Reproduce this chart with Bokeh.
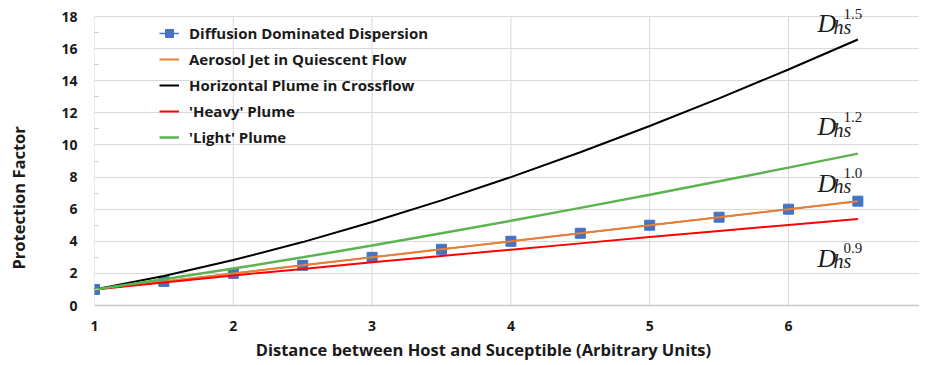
from bokeh.plotting import figure
from bokeh.models import Legend, LegendItem, Label, FixedTicker, Range1d
from bokeh.embed import file_html
from bokeh.resources import INLINE

# ---- data ----
x_vals = [1.0, 1.5, 2.0, 2.5, 3.0, 3.5, 4.0, 4.5, 5.0, 5.5, 6.0, 6.5]
diffusion = [1.0, 1.5, 2.0, 2.5, 3.0, 3.5, 4.0, 4.5, 5.0, 5.5, 6.0, 6.5]
aerosol_jet = [1.0, 1.5, 2.0, 2.5, 3.0, 3.5, 4.0, 4.5, 5.0, 5.5, 6.0, 6.5]
horizontal_plume = [1.0, 1.84, 2.83, 3.95, 5.20, 6.55, 8.00, 9.55, 11.18, 12.90, 14.70, 16.57]
heavy_plume = [1.0, 1.44, 1.87, 2.28, 2.69, 3.09, 3.48, 3.87, 4.26, 4.64, 5.02, 5.39]
light_plume = [1.0, 1.63, 2.30, 3.00, 3.74, 4.50, 5.28, 6.08, 6.90, 7.74, 8.59, 9.46]

series_names = ["Diffusion Dominated Dispersion", "Aerosol Jet in Quiescent Flow",
                "Horizontal Plume in Crossflow", "'Heavy' Plume", "'Light' Plume"]
x_ticks = [1, 2, 3, 4, 5, 6, 7]
y_ticks = [0, 2, 4, 6, 8, 10, 12, 14, 16, 18]
y_max = 18
x_title = "Distance between Host and Suceptible (Arbitrary Units)"
y_title = "Protection Factor"
exponent_labels = ["1.5", "1.2", "1.0", "0.9"]
exponent_label_y = [17.56, 11.15, 7.6, 2.93]

FONT = "Open Sans"
TXT = "#1a1a1a"
NBSP = "\u00a0"

p = figure(frame_width=825, frame_height=301, output_backend="svg", toolbar_location=None,
           x_range=Range1d(1, 6.944), y_range=Range1d(0, 18.75),
           min_border_left=94, min_border_right=0, min_border_top=4, min_border_bottom=50)
p.outline_line_color = None
p.background_fill_color = "white"

# axes
p.xaxis.ticker = FixedTicker(ticks=x_ticks)
p.yaxis.ticker = FixedTicker(ticks=y_ticks, minor_ticks=list(range(1, 18, 2)))
for ax in (p.xaxis[0], p.yaxis[0]):
    ax.major_label_text_font = FONT
    ax.major_label_text_font_style = "bold"
    ax.major_label_text_font_size = "14px"
    ax.major_label_text_color = TXT
    ax.axis_label_text_font = FONT
    ax.axis_label_text_font_style = "bold"
    ax.axis_label_text_font_size = "16.5px"
    ax.axis_label_text_color = TXT
    ax.major_tick_line_color = None
p.xaxis.axis_line_color = "#c8c8c8"
p.xaxis.axis_line_width = 1.5
p.yaxis.axis_line_color = None
p.xaxis.minor_tick_line_color = None
p.yaxis.minor_tick_line_color = "#c8c8c8"
p.yaxis.minor_tick_in = 4
p.yaxis.minor_tick_out = 0
p.xaxis.major_label_standoff = 9
p.yaxis.major_label_standoff = 11
# trailing no-break spaces shift the titles off-centre as in the reference
p.xaxis.axis_label = x_title + NBSP * 11
p.yaxis.axis_label = y_title + NBSP * 20
p.xaxis.axis_label_standoff = 4
p.yaxis.axis_label_standoff = 28

p.xgrid.grid_line_color = None
p.ygrid.grid_line_color = "#d9d9d9"
p.ygrid.ticker = FixedTicker(ticks=y_ticks)
# vertical grid lines stop at the top tick (y = 18)
p.segment(x0=x_ticks, y0=[0] * len(x_ticks), x1=x_ticks, y1=[y_max] * len(x_ticks),
          line_color="#d9d9d9", line_width=1)

# series
blue = "#4472C4"
r_diff_line = p.line(x_vals, diffusion, line_color=blue, line_width=1.5)
r_diff_sq = p.scatter(x_vals, diffusion, marker="square", size=10, fill_color=blue, line_color=blue)
r_aer = p.line(x_vals, aerosol_jet, line_color="#ED7D31", line_width=2)
r_hor = p.line(x_vals, horizontal_plume, line_color="black", line_width=2)
r_hvy = p.line(x_vals, heavy_plume, line_color="#FF0000", line_width=2)
r_lgt = p.line(x_vals, light_plume, line_color="#5BB450", line_width=2.5)

legend = Legend(items=[
    LegendItem(label=series_names[0], renderers=[r_diff_line, r_diff_sq]),
    LegendItem(label=series_names[1], renderers=[r_aer]),
    LegendItem(label=series_names[2], renderers=[r_hor]),
    LegendItem(label=series_names[3], renderers=[r_hvy]),
    LegendItem(label=series_names[4], renderers=[r_lgt]),
], location=(65, 158))
legend.border_line_color = None
legend.background_fill_alpha = 0
legend.padding = 5
legend.margin = 0
legend.spacing = 6
legend.glyph_width = 20
legend.glyph_height = 20
legend.label_height = 20
legend.label_standoff = 10
legend.label_text_font = FONT
legend.label_text_font_style = "bold"
legend.label_text_font_size = "15px"
legend.label_text_color = TXT
p.add_layout(legend, "center")

# exponent annotations D_hs^n
for lab, yb in zip(exponent_labels, exponent_label_y):
    p.add_layout(Label(x=6.209, y=yb, text="D", text_font="Liberation Serif",
                       text_font_style="italic", text_font_size="26px",
                       text_color=TXT, text_baseline="alphabetic"))
    p.add_layout(Label(x=6.209, y=yb, x_offset=26, y_offset=10, text=lab,
                       text_font="Liberation Serif", text_font_size="15px",
                       text_color=TXT, text_baseline="alphabetic"))
    p.add_layout(Label(x=6.209, y=yb, x_offset=16, y_offset=-3, text="hs",
                       text_font="Liberation Serif", text_font_style="italic",
                       text_font_size="20px",
                       text_color=TXT, text_baseline="alphabetic"))

open("out.html", "w").write(file_html(p, INLINE))
